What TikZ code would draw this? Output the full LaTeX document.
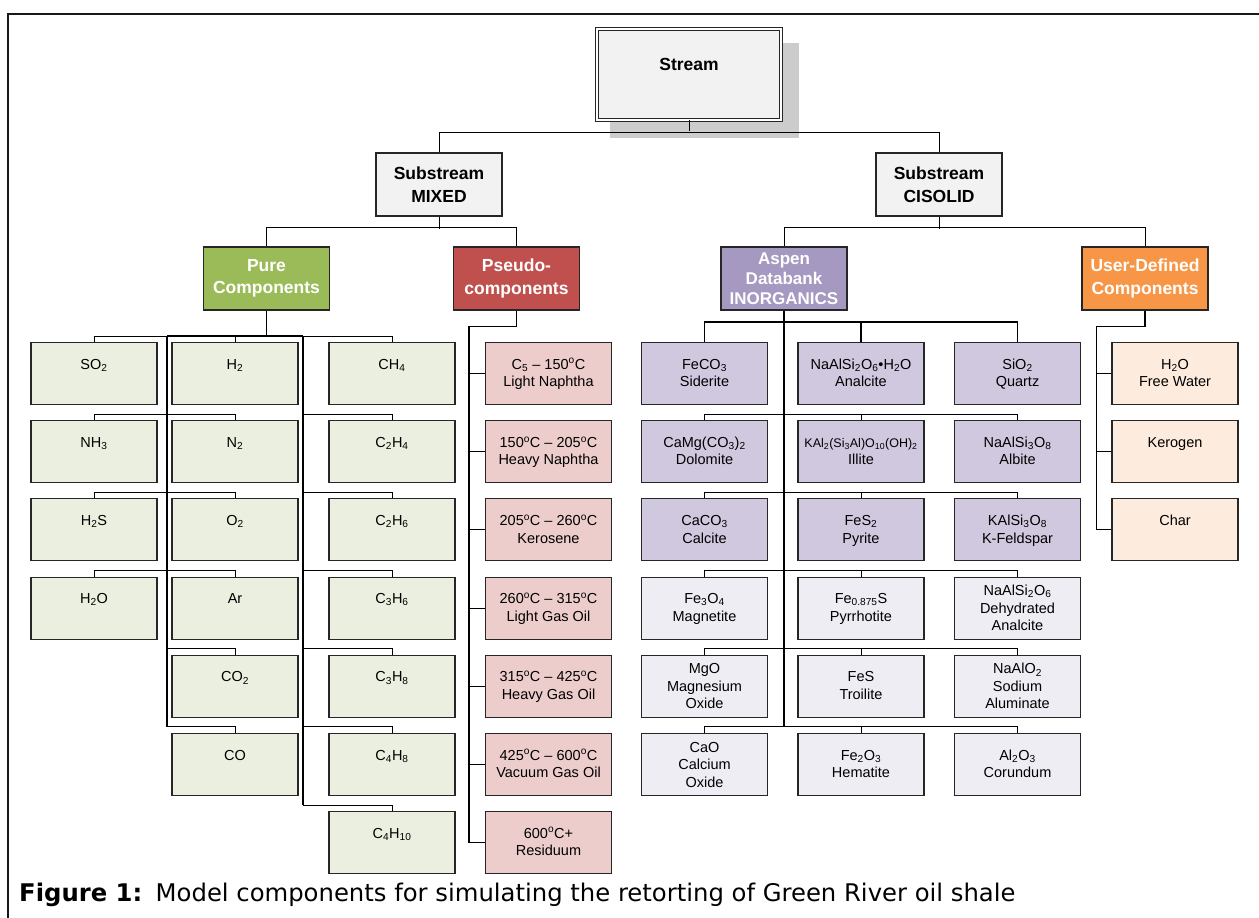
\documentclass[tikz,border=0pt]{standalone}
\usepackage{fontspec}
\setmainfont{Liberation Sans}
\newfontfamily\capfont{DejaVu Sans}
\usetikzlibrary{calc}
\definecolor{hdrgray}{HTML}{F2F2F2}
\definecolor{shadowc}{HTML}{CCCCCC}
\definecolor{pureD}{HTML}{9BBB59}
\definecolor{pureL}{HTML}{EBEFDF}
\definecolor{psD}{HTML}{C0504D}
\definecolor{psL}{HTML}{EDCDCC}
\definecolor{inD}{HTML}{A598C1}
\definecolor{inM}{HTML}{D0C8DF}
\definecolor{inL}{HTML}{EFEDF4}
\definecolor{usD}{HTML}{F79646}
\definecolor{usL}{HTML}{FDEBDD}
\tikzset{
  cbox/.style={draw=black!85, line width=1.1pt, minimum width=126pt, minimum height=62pt, inner sep=0pt, anchor=north},
  ctext/.style={anchor=north, align=center, inner sep=0pt, font=\fontsize{14.5}{17.5}\selectfont},
  hbox/.style={draw=black!85, line width=1.1pt, minimum width=126pt, minimum height=63pt, inner sep=0pt, align=center, font=\fontsize{17.5}{22.5}\selectfont\bfseries},
  trunk/.style={line width=1.8pt, black},
  branch/.style={line width=1pt, black},
}
\newcommand\tstrut{\rule{0pt}{13pt}}
\newcommand\cmp[5]{\node[cbox,fill=#4] (#1) at (#2,#3) {}; \node[ctext] (#1t) at ([yshift=-14pt]#1.north) {\tstrut#5};}
\newcommand\cmpc[5]{\node[cbox,fill=#4] (#1) at (#2,#3) {}; \node[ctext] (#1t) at ([yshift=-6pt]#1.north) {\tstrut#5};}
\newcommand\sub[1]{\textsubscript{#1}}
\newcommand\dg{\textsuperscript{o}C}
\begin{document}
\begin{tikzpicture}[x=1pt,y=-1pt]
\useasboundingbox (0,0) rectangle (1259,918);
\fill[white] (0,0) rectangle (1259,918);
% frame
\draw[line width=2pt, black!90] (8,918) -- (8,14) -- (1259,14);
% stream
\fill[shadowc] (610,43) rectangle (799,138);
\node[draw=black!85, double=white, double distance=2.4pt, line width=0.9pt, fill=hdrgray, minimum width=184pt, minimum height=91pt, inner sep=0pt] (stream) at (689,74.5) {};
\node[anchor=base, inner sep=0pt, font=\fontsize{17.5}{21}\selectfont\bfseries] (streamt) at (689,70) {Stream};
% substreams
\node[hbox, fill=hdrgray] (mixed) at (439,184.5) {Substream\\MIXED};
\node[hbox, fill=hdrgray] (cisolid) at (939,184.5) {Substream\\CISOLID};
% categories
\node[hbox, fill=pureD, text=white] (pure) at (266.5,278.5) {Pure\\Components};
\node[hbox, fill=psD, text=white] (pseudo) at (516.5,278.5) {Pseudo-\\components};
\node[hbox, fill=inD, text=white, font=\fontsize{17}{20}\selectfont\bfseries] (aspen) at (784,278.5) {Aspen\\Databank\\INORGANICS};
\node[hbox, fill=usD, text=white] (user) at (1145,278.5) {User-Defined\\Components};
% pure components
\cmp{so2}{94}{342}{pureL}{SO\sub{2}}
\cmp{nh3}{94}{420.2}{pureL}{NH\sub{3}}
\cmp{h2s}{94}{498.3}{pureL}{H\sub{2}S}
\cmp{h2ob}{94}{576.5}{pureL}{H\sub{2}O}
\cmp{h2}{235}{342}{pureL}{H\sub{2}}
\cmp{n2}{235}{420.2}{pureL}{N\sub{2}}
\cmp{o2}{235}{498.3}{pureL}{O\sub{2}}
\cmp{ar}{235}{576.5}{pureL}{Ar}
\cmp{co2}{235}{654.7}{pureL}{CO\sub{2}}
\cmp{co}{235}{732.8}{pureL}{CO}
\cmp{ch4}{392}{342}{pureL}{CH\sub{4}}
\cmp{c2h4}{392}{420.2}{pureL}{C\sub{2}H\sub{4}}
\cmp{c2h6}{392}{498.3}{pureL}{C\sub{2}H\sub{6}}
\cmp{c3h6}{392}{576.5}{pureL}{C\sub{3}H\sub{6}}
\cmp{c3h8}{392}{654.7}{pureL}{C\sub{3}H\sub{8}}
\cmp{c4h8}{392}{732.8}{pureL}{C\sub{4}H\sub{8}}
\cmp{c4h10}{392}{811}{pureL}{C\sub{4}H\sub{10}}
% pseudo components
\cmp{ps1}{548.5}{342}{psL}{C\sub{5} -- 150\dg\\Light Naphtha}
\cmp{ps2}{548.5}{420.2}{psL}{150\dg{} -- 205\dg\\Heavy Naphtha}
\cmp{ps3}{548.5}{498.3}{psL}{205\dg{} -- 260\dg\\Kerosene}
\cmp{ps4}{548.5}{576.5}{psL}{260\dg{} -- 315\dg\\Light Gas Oil}
\cmp{ps5}{548.5}{654.7}{psL}{315\dg{} -- 425\dg\\Heavy Gas Oil}
\cmp{ps6}{548.5}{732.8}{psL}{425\dg{} -- 600\dg\\Vacuum Gas Oil}
\cmp{ps7}{548.5}{811}{psL}{600\dg+\\Residuum}
% inorganics
\cmp{feco3}{704.5}{342}{inM}{FeCO\sub{3}\\Siderite}
\cmp{anal}{861}{342}{inM}{NaAlSi\sub{2}O\sub{6}\textbullet H\sub{2}O\\Analcite}
\cmp{sio2}{1017.5}{342}{inM}{SiO\sub{2}\\Quartz}
\cmp{dolo}{704.5}{420.2}{inM}{CaMg(CO\sub{3})\sub{2}\\Dolomite}
\cmp{illite}{861}{420.2}{inM}{{\fontsize{12.5}{17.5}\selectfont KAl\sub{2}(Si\sub{3}Al)O\sub{10}(OH)\sub{2}}\\Illite}
\cmp{albite}{1017.5}{420.2}{inM}{NaAlSi\sub{3}O\sub{8}\\Albite}
\cmp{calcite}{704.5}{498.3}{inM}{CaCO\sub{3}\\Calcite}
\cmp{pyrite}{861}{498.3}{inM}{FeS\sub{2}\\Pyrite}
\cmp{kfeld}{1017.5}{498.3}{inM}{KAlSi\sub{3}O\sub{8}\\K-Feldspar}
\cmp{magn}{704.5}{576.5}{inL}{Fe\sub{3}O\sub{4}\\Magnetite}
\cmp{pyrr}{861}{576.5}{inL}{Fe\sub{0.875}S\\Pyrrhotite}
\cmpc{dehy}{1017.5}{576.5}{inL}{NaAlSi\sub{2}O\sub{6}\\Dehydrated\\Analcite}
\cmpc{mgo}{704.5}{654.7}{inL}{MgO\\Magnesium\\Oxide}
\cmp{troil}{861}{654.7}{inL}{FeS\\Troilite}
\cmpc{naalo}{1017.5}{654.7}{inL}{NaAlO\sub{2}\\Sodium\\Aluminate}
\cmpc{cao}{704.5}{732.8}{inL}{CaO\\Calcium\\Oxide}
\cmp{hema}{861}{732.8}{inL}{Fe\sub{2}O\sub{3}\\Hematite}
\cmp{coru}{1017.5}{732.8}{inL}{Al\sub{2}O\sub{3}\\Corundum}
% user defined
\cmp{water}{1175}{342}{usL}{H\sub{2}O\\Free Water}
\cmp{kerogen}{1175}{420.2}{usL}{Kerogen}
\cmp{char}{1175}{498.3}{usL}{Char}
% connectors: top levels
\draw[branch] (stream.south) -- ++(0,11);
\draw[branch] (mixed.north) -- ++(0,-20) -| (cisolid.north);
\draw[branch] (mixed.south) -- ++(0,12);
\draw[branch] (pure.north) -- ++(0,-19) -| (pseudo.north);
\draw[branch] (cisolid.south) -- ++(0,12);
\draw[branch] (aspen.north) -- ++(0,-19) -| (user.north);
% pure tree
\coordinate (pL) at (167,336);
\coordinate (pR) at (303,336);
\draw[trunk] (pure.south) -- (pure.south |- pL);
\draw[branch] (so2.north) -- ++(0,-6) -| (ch4.north);
\draw[trunk] (pL) -- (pR);
\draw[trunk] (pL) -- ($(pL |- co.north)+(0,-6)$);
\draw[trunk] (pR) -- ($(pR |- c4h10.north)+(0,-6)$);
\draw[branch] (so2.north) -- ++(0,-6) -| (h2.north);
\draw[branch] (nh3.north) -- ++(0,-6) -| (n2.north);
\draw[branch] (h2s.north) -- ++(0,-6) -| (o2.north);
\draw[branch] (h2ob.north) -- ++(0,-6) -| (ar.north);
\draw[branch] (co2.north) |- ($(pL |- co2.north)+(0,-6)$);
\draw[branch] (co.north) |- ($(pL |- co.north)+(0,-6)$);
\foreach \n in {c2h4,c2h6,c3h6,c3h8,c4h8,c4h10}
  \draw[branch] (\n.north) |- ($(pR |- \n.north)+(0,-6)$);
% pseudo tree
\draw[trunk] (pseudo.south) -- ++(0,16) -| ($(ps7.west)+(-16,0)$);
\foreach \n in {ps1,ps2,ps3,ps4,ps5,ps6,ps7}
  \draw[branch] (\n.west) -- ++(-16,0);
% inorganics tree
\draw[trunk] (aspen.south) -- ($(aspen.south |- cao.north)+(0,-6)$);
\draw[trunk] (feco3.north) -- ++(0,-20) -| (sio2.north);
\draw[trunk] (anal.north) -- ++(0,-20);
\foreach \a/\b/\c in {dolo/illite/albite,calcite/pyrite/kfeld,magn/pyrr/dehy,mgo/troil/naalo,cao/hema/coru}{
  \draw[branch] (\a.north) -- ++(0,-6) -| (\c.north);
  \draw[branch] (\b.north) -- ++(0,-6);
}
% user tree
\draw[trunk] (user.south) -- ++(0,16) -| ($(char.west)+(-15,0)$);
\foreach \n in {water,kerogen,char}
  \draw[branch] (\n.west) -- ++(-15,0);
% caption
\node[anchor=base west, inner sep=0pt, font=\capfont\fontsize{24.3}{28}\selectfont] (cap) at (19,901) {\textbf{Figure 1:}\hspace{0.55em}Model components for simulating the retorting of Green River oil shale};
\end{tikzpicture}
\end{document}
